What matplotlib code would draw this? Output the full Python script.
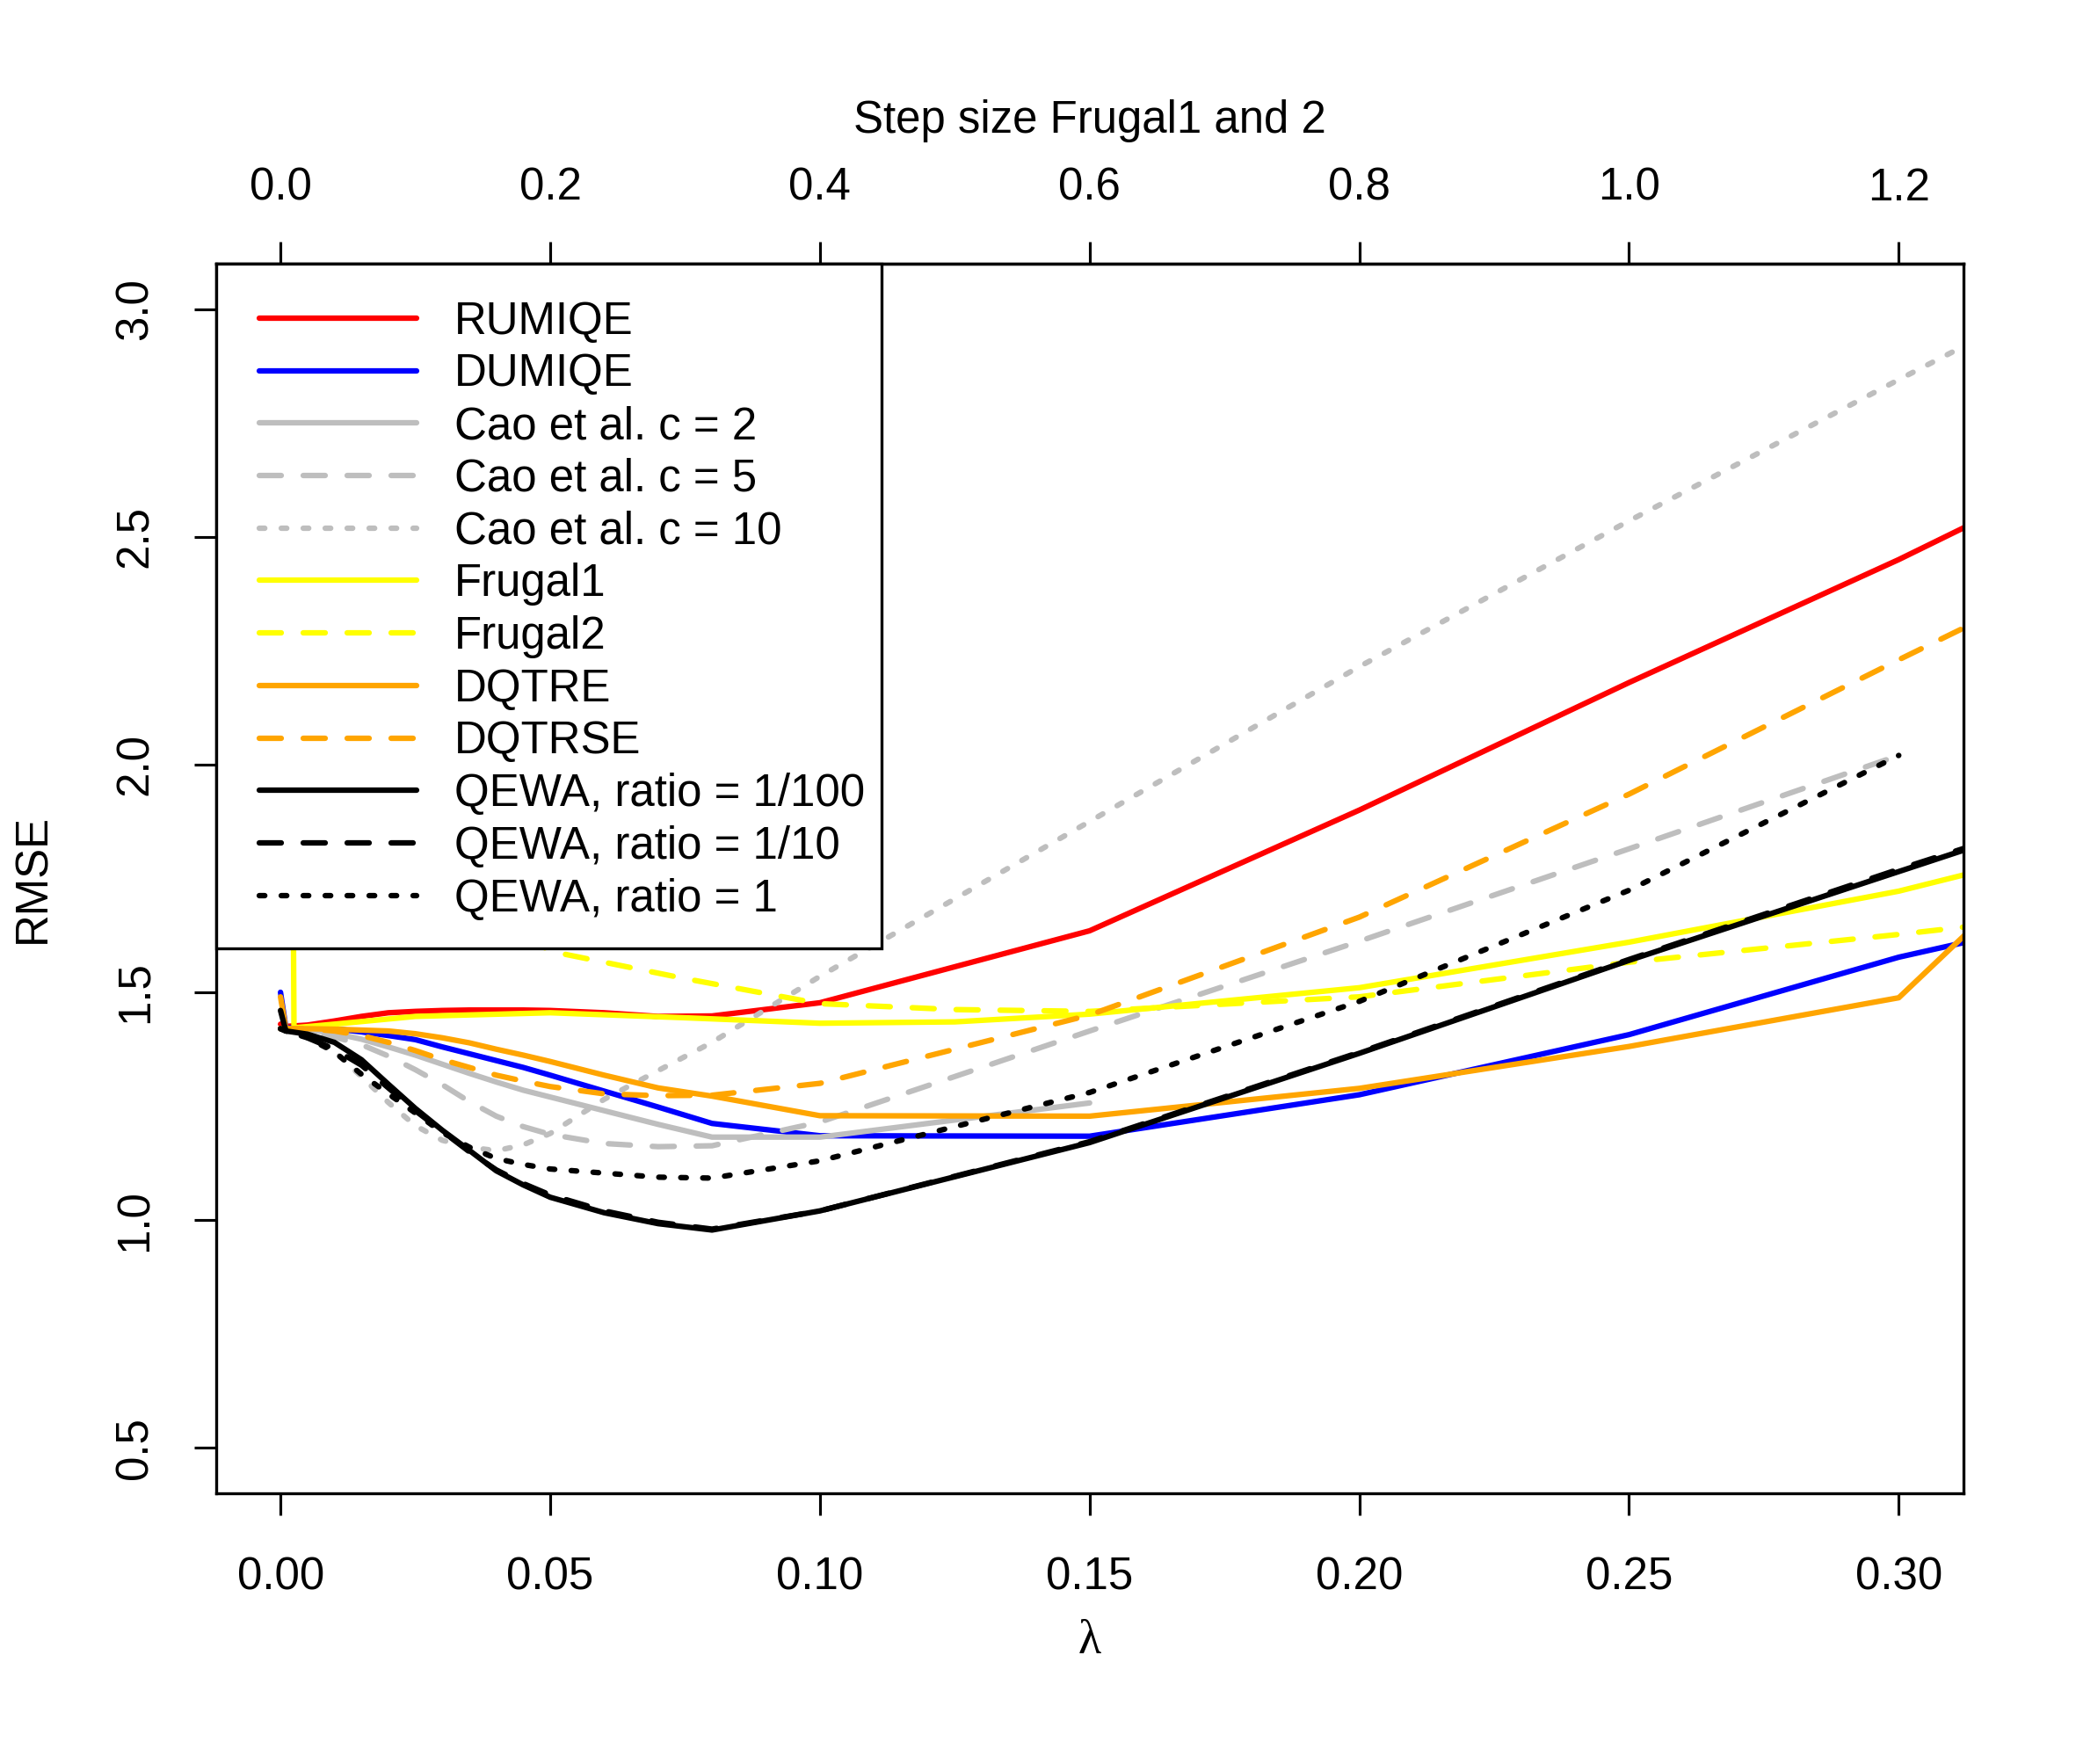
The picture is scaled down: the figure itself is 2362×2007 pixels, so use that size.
import numpy as np
import matplotlib
matplotlib.use('Agg')
import matplotlib.pyplot as plt
from matplotlib.patches import Rectangle

plt.rcParams['font.family'] = ['Liberation Sans', 'DejaVu Sans']
plt.rcParams['font.size'] = 12

nan = np.nan

# lambda grid (bottom axis)
lam = [0, 0.001, 0.005, 0.01, 0.015, 0.02, 0.025, 0.03, 0.035, 0.04, 0.045,
       0.05, 0.06, 0.07, 0.08, 0.1, 0.15, 0.2, 0.25, 0.3, 0.35]

rumiqe = [1.43, 1.425, 1.428, 1.437, 1.447, 1.455, 1.458, 1.46, 1.461, 1.461, 1.461,
          1.46, 1.455, 1.447, 1.448, 1.477, 1.635, 1.90, 2.18, 2.45, 2.74]
dumiqe = [1.50, 1.422, 1.422, 1.42, 1.413, 1.405, 1.396, 1.38, 1.365, 1.35, 1.335,
          1.318, 1.283, 1.248, 1.212, 1.185, 1.184, 1.275, 1.407, 1.577, 1.71]
cao_2 = [1.42, 1.42, 1.418, 1.41, 1.397, 1.38, 1.362, 1.342, 1.322, 1.303, 1.285,
         1.27, 1.24, 1.21, 1.182, 1.182, 1.257, nan, nan, nan, nan]
cao_5 = [1.42, 1.42, 1.415, 1.402, 1.385, 1.36, 1.33, 1.297, 1.26, 1.228, 1.205,
         1.188, 1.168, 1.161, 1.163, 1.215, 1.415, 1.612, 1.815, 2.02, nan]
cao_10 = [1.42, 1.42, 1.405, 1.37, 1.315, 1.258, 1.207, 1.175, 1.16, 1.152, 1.165,
          1.19, 1.265, 1.328, 1.39, 1.535, 1.875, 2.215, 2.535, 2.845, 3.15]
dqtre = [1.49, 1.42, 1.42, 1.419, 1.417, 1.415, 1.409, 1.40, 1.389, 1.375, 1.362,
         1.348, 1.318, 1.29, 1.272, 1.229, 1.228, 1.289, 1.381, 1.488, 2.05]
dqtrse = [1.42, 1.42, 1.42, 1.415, 1.405, 1.39, 1.372, 1.352, 1.335, 1.318, 1.305,
          1.293, 1.277, 1.273, 1.274, 1.30, 1.45, 1.665, 1.935, 2.23, 2.52]
qewa_100 = [1.42, 1.415, 1.408, 1.39, 1.352, 1.298, 1.245, 1.197, 1.153, 1.108, 1.077,
            1.05, 1.016, 0.992, 0.978, 1.02, 1.17, 1.366, 1.57, 1.765, 1.96]
qewa_10 = [1.46, 1.415, 1.40, 1.375, 1.34, 1.29, 1.24, 1.195, 1.15, 1.11, 1.08,
           1.055, 1.02, 0.995, 0.98, 1.02, 1.172, 1.368, 1.572, 1.77, 1.96]
qewa_1 = [1.42, 1.415, 1.40, 1.369, 1.32, 1.277, 1.235, 1.192, 1.16, 1.135, 1.122,
          1.112, 1.103, 1.094, 1.092, 1.13, 1.28, 1.48, 1.724, 2.02, nan]

# Frugal step sizes (top axis), step = 4 * lambda
step = [0.005, 0.01, 0.04, 0.1, 0.2, 0.3, 0.4, 0.5, 0.6, 0.8, 1.0, 1.2, 1.4]
frugal1 = [4.0, 1.422, 1.43, 1.447, 1.455, 1.444, 1.432, 1.435, 1.452, 1.51, 1.61, 1.722, 1.87]
frugal2 = [nan, nan, nan, 1.78, 1.59, 1.53, 1.475, 1.462, 1.458, 1.49, 1.566, 1.627, 1.694]

x_ticks = [0.00, 0.05, 0.10, 0.15, 0.20, 0.25, 0.30]
top_ticks = [0.0, 0.2, 0.4, 0.6, 0.8, 1.0, 1.2]
y_ticks = [0.5, 1.0, 1.5, 2.0, 2.5, 3.0]

DASHED = (0, (4, 4))
DOTTED = (0, (1, 3))

step_to_lam = 0.25
FS = 12.25

series = [
    ('RUMIQE', lam, rumiqe, '#FF0000', '-'),
    ('DUMIQE', lam, dumiqe, '#0000FF', '-'),
    ('Cao et al. c = 2', lam, cao_2, '#BEBEBE', '-'),
    ('Cao et al. c = 5', lam, cao_5, '#BEBEBE', DASHED),
    ('Cao et al. c = 10', lam, cao_10, '#BEBEBE', DOTTED),
    ('Frugal1', np.array(step) * step_to_lam, frugal1, '#FFFF00', '-'),
    ('Frugal2', np.array(step) * step_to_lam, frugal2, '#FFFF00', DASHED),
    ('DQTRE', lam, dqtre, '#FFA500', '-'),
    ('DQTRSE', lam, dqtrse, '#FFA500', DASHED),
    ('QEWA, ratio = 1/100', lam, qewa_100, '#000000', '-'),
    ('QEWA, ratio = 1/10', lam, qewa_10, '#000000', DASHED),
    ('QEWA, ratio = 1', lam, qewa_1, '#000000', DOTTED),
]

W, H, DPI = 2362, 2007, 300
fig = plt.figure(figsize=(W / DPI, H / DPI), dpi=DPI)
left, right, top, bottom = 245.5, 2234.0, 299.8, 1699.0
ax = fig.add_axes([left / W, 1 - bottom / H, (right - left) / W, (bottom - top) / H])

for label, x, y, col, ls in series:
    ax.plot(x, y, color=col, linestyle=ls, linewidth=1.5, label=label,
            solid_capstyle='round', dash_capstyle='round',
            solid_joinstyle='round', dash_joinstyle='round')

ax.set_xlim(-0.012, 0.312)
ax.set_ylim(0.4, 3.1)
ax.set_xticks(x_ticks)
ax.set_xticklabels(['%.2f' % v for v in x_ticks])
ax.set_yticks(y_ticks)
ax.set_yticklabels(['%.1f' % v for v in y_ticks], rotation=90, va='center')
ax.tick_params(direction='out', length=6.1, width=0.75, labelsize=FS)
ax.tick_params(axis='x', pad=11)
ax.tick_params(axis='y', pad=10)
for sp in ax.spines.values():
    sp.set_linewidth(0.8)

sec = ax.secondary_xaxis('top', functions=(lambda x: x / step_to_lam, lambda x: x * step_to_lam))
sec.set_xticks(top_ticks)
sec.set_xticklabels(['%.1f' % v for v in top_ticks])
sec.tick_params(direction='out', length=6.1, width=0.75, pad=8.5, labelsize=FS)
sec.spines['top'].set_linewidth(0.8)

# legend box (R style: tight box in the top-left corner)
box_w = (1003.3 - left) / (right - left)
box_h = (1078.6 - top) / (bottom - top)
ax.add_patch(Rectangle((0, 1 - box_h), box_w, box_h, transform=ax.transAxes,
                       facecolor='white', edgecolor='black', linewidth=0.8,
                       zorder=4, clip_on=False))
leg = ax.legend(loc='upper left', bbox_to_anchor=(0.0038, 1), borderaxespad=0,
                fontsize=FS, handlelength=3.5, handletextpad=0.85,
                borderpad=0.82, labelspacing=0.21, frameon=False)

fig.text(1239.8 / W, 1 - 1868 / H, '\u03bb', ha='center', va='center',
         fontsize=13, family='Liberation Serif')
fig.text(37.7 / W, 1 - 999 / H, 'RMSE', ha='center', va='center', rotation=90, fontsize=FS)
fig.text(1239.8 / W, 1 - 137 / H, 'Step size Frugal1 and 2', ha='center', va='center', fontsize=FS)

fig.savefig('out.png', dpi=DPI)
